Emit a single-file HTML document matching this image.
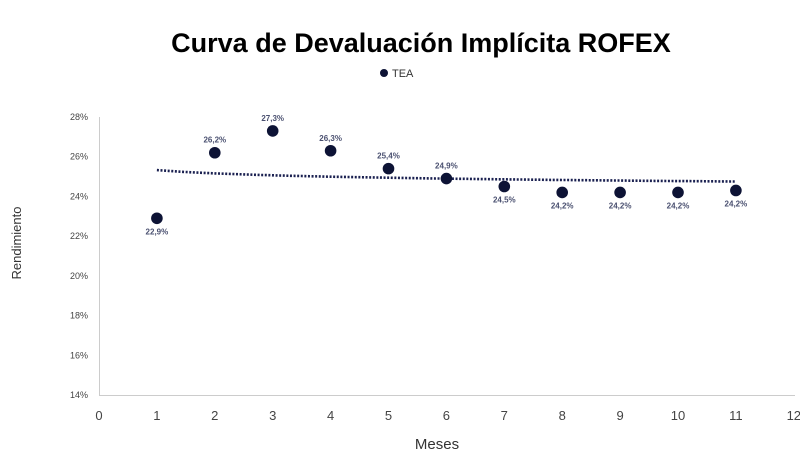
<!DOCTYPE html>
<html><head><meta charset="utf-8"><style>
body{margin:0;background:#fff;width:800px;height:467px;overflow:hidden;font-family:"Liberation Sans",sans-serif}
</style></head><body>
<svg id="chart" width="800" height="467" xmlns="http://www.w3.org/2000/svg">
<text x="421" y="52" text-anchor="middle" font-size="27" font-weight="bold" fill="#000">Curva de Devaluación Implícita ROFEX</text>
<g><circle cx="384" cy="73" r="4" fill="#0d1335"/><text x="392" y="77" font-size="11" fill="#333">TEA</text></g>
<line x1="99.5" y1="117" x2="99.5" y2="395" stroke="#ccc"/>
<line x1="99" y1="395.5" x2="795" y2="395.5" stroke="#ccc"/>
<text transform="translate(21,243) rotate(-90)" text-anchor="middle" font-size="13" fill="#333">Rendimiento</text>
<text x="437" y="449" text-anchor="middle" font-size="15" fill="#333">Meses</text>
<g id="g"></g>
</svg>
<script>
const months=[1,2,3,4,5,6,7,8,9,10,11];
const tea=[22.9,26.2,27.3,26.3,25.4,24.9,24.5,24.2,24.2,24.2,24.3];
const labels=["22,9%","26,2%","27,3%","26,3%","25,4%","24,9%","24,5%","24,2%","24,2%","24,2%","24,2%"];
const xTicks=[0,1,2,3,4,5,6,7,8,9,10,11,12];
const yTicks=[14,16,18,20,22,24,26,28];
const X=v=>99+v*57.9, Y=v=>395-(v-14)*(278/14);
const g=document.getElementById('g'),NS='http://www.w3.org/2000/svg';
function el(t,a,txt){const e=document.createElementNS(NS,t);for(const k in a)e.setAttribute(k,a[k]);if(txt!=null)e.textContent=txt;g.appendChild(e);return e;}
yTicks.forEach(v=>{const e=el('text',{x:88,y:Y(v)+3,'text-anchor':'end','font-size':9,fill:'#444'},v+'%');

});
xTicks.forEach(v=>{const e=el('text',{x:X(v),y:420,'text-anchor':'middle','font-size':13,fill:'#444'},v);

});
const lx=months.map(Math.log),n=months.length;
const mx=lx.reduce((a,b)=>a+b)/n,my=tea.reduce((a,b)=>a+b)/n;
let sxy=0,sxx=0;lx.forEach((l,i)=>{sxy+=(l-mx)*(tea[i]-my);sxx+=(l-mx)**2;});
const b=sxy/sxx,a=my-b*mx;
let d='';for(let m=1;m<=11.001;m+=0.1){d+=(d?'L':'M')+X(m).toFixed(1)+','+Y(a+b*Math.log(m)).toFixed(1);}
const tl=el('path',{d:d,fill:'none',stroke:'#1a2050','stroke-width':2.6,'stroke-dasharray':'2 1.6'});


months.forEach((m,i)=>{
const c=el('circle',{cx:X(m),cy:Y(tea[i]),r:5.8,fill:'#0d1335'});


const below=i===0||i>=6;
const t=el('text',{x:X(m),y:below?Y(tea[i])+16:Y(tea[i])-10,'text-anchor':'middle','font-size':8,'font-weight':'bold',fill:'#4a5070'},labels[i]);


});
</script>
</body></html>
